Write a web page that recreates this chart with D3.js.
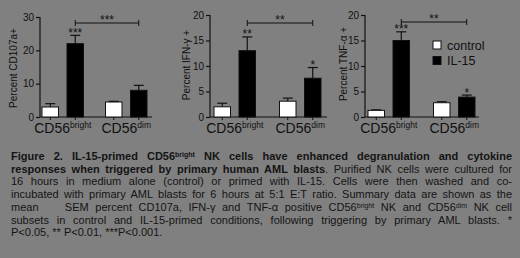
<!DOCTYPE html>
<html><head><meta charset="utf-8">
<script src="https://cdn.jsdelivr.net/npm/d3@7"></script>
<style>
html,body{margin:0;padding:0;background:#808080;width:520px;height:258px;overflow:hidden;}
svg{position:absolute;left:0;top:0;}
#cap{position:absolute;left:11px;top:150px;width:501px;font-family:"Liberation Sans",Arial,sans-serif;font-size:11px;line-height:12.7px;color:#141414;}
#cap div{text-align:justify;text-align-last:justify;white-space:nowrap;}
#cap div.last{text-align-last:left;}
#cap sup{font-size:7px;vertical-align:3px;line-height:0;}
</style></head>
<body>
<svg id="chart" width="520" height="258"></svg>
<div id="cap"></div>
<script>
// ---- data ----
const groups = ["CD56bright", "CD56dim"];
const groupSup = ["bright", "dim"];
const series = ["control", "IL-15"];

const cd107Control = [3.0, 4.5];
const cd107ControlSem = [1.0, 0.2];
const cd107IL15 = [22.0, 8.0];
const cd107IL15Sem = [2.5, 1.5];
const cd107Stars = ["***", ""];
const cd107Bracket = "***";
const cd107Ticks = [0, 10, 20, 30];

const ifnControl = [2.0, 3.1];
const ifnControlSem = [0.7, 0.6];
const ifnIL15 = [13.0, 7.6];
const ifnIL15Sem = [2.7, 2.1];
const ifnStars = ["**", "*"];
const ifnBracket = "**";
const ifnTicks = [0, 5, 10, 15, 20];

const tnfControl = [1.3, 2.8];
const tnfControlSem = [0.1, 0.2];
const tnfIL15 = [15.0, 3.9];
const tnfIL15Sem = [1.7, 0.4];
const tnfStars = ["***", "*"];
const tnfBracket = "**";
const tnfTicks = [0, 5, 10, 15, 20];

const yLabels = ["Percent CD107a+", "Percent IFN-\u03b3 +", "Percent TNF-\u03b1 +"];

// ---- layout ----
const panels = [
  {ax: 40, x0: 31, x1: 158, top: 17, max: 30, ticks: cd107Ticks, c: cd107Control, cs: cd107ControlSem, t: cd107IL15, ts: cd107IL15Sem, stars: cd107Stars, br: cd107Bracket, label: yLabels[0], lx: 13, ly: 68, brY: 23, axEnd: 152},
  {ax: 210, x0: 202, x1: 333, top: 15, max: 20, ticks: ifnTicks, c: ifnControl, cs: ifnControlSem, t: ifnIL15, ts: ifnIL15Sem, stars: ifnStars, br: ifnBracket, label: yLabels[1], lx: 186, ly: 65, brY: 23, axEnd: 327},
  {ax: 365, x0: 356, x1: 487, top: 15, max: 20, ticks: tnfTicks, c: tnfControl, cs: tnfControlSem, t: tnfIL15, ts: tnfIL15Sem, stars: tnfStars, br: tnfBracket, label: yLabels[2], lx: 343, ly: 64, brY: 22, axEnd: 479}
];
const base = 117, barW = 16.5, ink = "#111";
const svg = d3.select("#chart");
const font = "'Liberation Sans', Arial, sans-serif";

panels.forEach(p => {
  const g = svg.append("g");
  const y = d3.scaleLinear().domain([0, p.max]).range([base, p.top]);
  const xg = d3.scaleBand().domain(groups).range([p.x0, p.x1]);
  const xs = d3.scalePoint().domain(series).range([-12.5, 12.5]);
  const cx = (gi, s) => xg(groups[gi]) + xg.bandwidth() / 2 + xs(s);

  // y axis
  const ya = g.append("g").attr("transform", `translate(${p.ax},0)`)
    .call(d3.axisLeft(y).tickValues(p.ticks).tickSize(4).tickPadding(2));
  ya.selectAll("path,line").attr("stroke", ink).attr("stroke-width", 1.2);
  ya.select("path").attr("d", `M0,${p.top}V${base}`);
  ya.selectAll("text").attr("font-family", font).attr("font-size", 10).attr("fill", ink);

  // x axis line
  g.append("line").attr("x1", p.ax).attr("x2", p.axEnd).attr("y1", base).attr("y2", base)
    .attr("stroke", ink).attr("stroke-width", 1.2);

  // bars
  const rows = [];
  groups.forEach((gr, gi) => {
    rows.push({gi, s: "control", v: p.c[gi], e: p.cs[gi], star: ""});
    rows.push({gi, s: "IL-15", v: p.t[gi], e: p.ts[gi], star: p.stars[gi]});
  });
  rows.forEach(r => {
    const x = cx(r.gi, r.s);
    // error bar
    g.append("line").attr("x1", x).attr("x2", x).attr("y1", y(r.v)).attr("y2", y(r.v + r.e)).attr("stroke", ink).attr("stroke-width", 1.2);
    g.append("line").attr("x1", x - 5).attr("x2", x + 5).attr("y1", y(r.v + r.e)).attr("y2", y(r.v + r.e)).attr("stroke", ink).attr("stroke-width", 1.2);
    g.append("rect").attr("x", x - barW / 2).attr("y", y(r.v)).attr("width", barW).attr("height", base - y(r.v))
      .attr("fill", r.s === "control" ? "#fff" : "#000").attr("stroke", ink).attr("stroke-width", 1);
    // x tick
    g.append("line").attr("x1", x).attr("x2", x).attr("y1", base).attr("y2", base + 3).attr("stroke", ink).attr("stroke-width", 1);
    if (r.star) {
      g.append("text").attr("x", x).attr("y", y(r.v + r.e) + 1.5).attr("text-anchor", "middle")
        .attr("font-family", font).attr("font-size", 12).attr("fill", ink).text(r.star);
    }
  });

  // bracket
  const bx1 = cx(0, "IL-15"), bx2 = cx(1, "IL-15");
  g.append("path").attr("d", `M${bx1},${p.brY - 3}V${p.brY + 3}M${bx1},${p.brY}H${bx2}M${bx2},${p.brY - 3}V${p.brY + 3}`)
    .attr("stroke", ink).attr("stroke-width", 1).attr("fill", "none");
  g.append("text").attr("x", (bx1 + bx2) / 2).attr("y", p.brY + 1).attr("text-anchor", "middle")
    .attr("font-family", font).attr("font-size", 12).attr("fill", ink).text(p.br);

  // category labels
  groups.forEach((gr, gi) => {
    const t = g.append("text").attr("x", xg(gr) + xg.bandwidth() / 2).attr("y", 133).attr("text-anchor", "middle")
      .attr("font-family", font).attr("font-size", 14).attr("fill", ink);
    t.append("tspan").text("CD56");
    t.append("tspan").attr("font-size", 8.5).attr("dy", -5).text(groupSup[gi]);
  });

  // y label
  g.append("text").attr("transform", `translate(${p.lx},${p.ly}) rotate(-90)`).attr("text-anchor", "middle")
    .attr("dy", "0.35em").attr("font-family", font).attr("font-size", 10).attr("fill", ink).text(p.label);
});

// legend
const leg = svg.append("g").attr("transform", "translate(433,41)");
series.forEach((s, i) => {
  leg.append("rect").attr("x", 0).attr("y", i * 15.5).attr("width", 8).attr("height", 8)
    .attr("fill", s === "control" ? "#fff" : "#000").attr("stroke", ink).attr("stroke-width", 1);
  leg.append("text").attr("x", 14).attr("y", i * 15.5 + 4).attr("dy", "0.36em")
    .attr("font-family", font).attr("font-size", 12.5).attr("fill", ink).text(s);
});

// caption
const capLines = [
  {b: true, html: "Figure 2. IL-15-primed CD56<sup>bright</sup> NK cells have enhanced degranulation and cytokine"},
  {html: "<b>responses when triggered by primary human AML blasts</b>. Purified NK cells were cultured for"},
  {html: "16 hours in medium alone (control) or primed with IL-15. Cells were then washed and co-"},
  {html: "incubated with primary AML blasts for 6 hours at 5:1 E:T ratio. Summary data are shown as the"},
  {html: "mean &nbsp;&nbsp; SEM percent CD107a, IFN-\u03b3 and TNF-\u03b1 positive CD56<sup>bright</sup> NK and CD56<sup>dim</sup> NK cell"},
  {html: "subsets in control and IL-15-primed conditions, following triggering by primary AML blasts. *"},
  {html: "P&lt;0.05, ** P&lt;0.01, ***P&lt;0.001.", last: true}
];
d3.select("#cap").selectAll("div").data(capLines).enter().append("div")
  .attr("class", d => d.last ? "last" : null)
  .style("font-weight", d => d.b ? "bold" : null)
  .html(d => d.html);
</script>
</body></html>
